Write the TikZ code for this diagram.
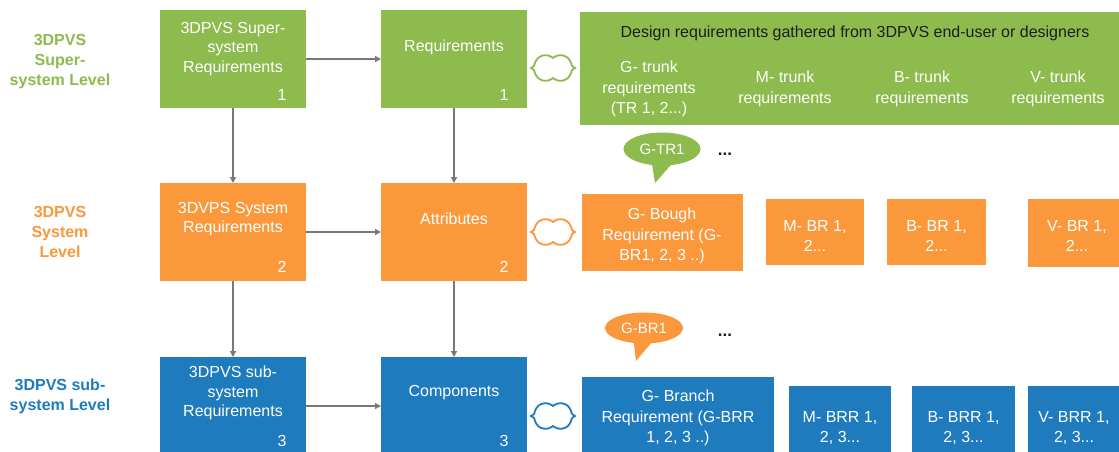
\documentclass[tikz,border=0pt]{standalone}
\usepackage{fontspec}
\setmainfont{Liberation Sans}
\usetikzlibrary{arrows.meta,shapes.geometric}
\definecolor{cgreen}{RGB}{141,187,77}
\definecolor{corange}{RGB}{252,152,60}
\definecolor{cblue}{RGB}{30,123,190}
\definecolor{cgray}{RGB}{120,120,120}
\definecolor{ctitle}{RGB}{30,30,30}
\begin{document}
\begin{tikzpicture}[x=1pt,y=-1pt,
  box/.style={rectangle, draw=none, inner sep=0pt, outer sep=0pt, anchor=north west},
  btxt/.style={text=white, align=center, inner sep=0pt, font=\fontsize{16}{19.5}\selectfont},
  stxt/.style={text=white, align=center, inner sep=0pt, font=\fontsize{16}{20.5}\selectfont},
  lvl/.style={align=center, inner sep=0pt, font=\fontsize{16}{20}\selectfont\bfseries},
  arr/.style={draw=cgray, line width=1.3pt, -{Triangle[length=6pt,width=6pt]}},
  bubble/.style={ellipse, draw=none, inner sep=0pt},
  dots/.style={inner sep=0pt, font=\fontsize{17}{17}\selectfont\bfseries, text=ctitle},
  peanut/.pic={
    \draw[line width=1.8pt, pic actions]
      (0,-10) .. controls (-5,-14.5) and (-15,-14) .. (-18,-5)
      .. controls (-19,-1.5) .. (-22,0)
      .. controls (-19,1.5) .. (-18,5)
      .. controls (-15,14) and (-5,14.5) .. (0,10)
      .. controls (5,14.5) and (15,14) .. (18,5)
      .. controls (19,1.5) .. (22,0)
      .. controls (19,-1.5) .. (18,-5)
      .. controls (15,-14) and (5,-14.5) .. (0,-10) -- cycle;
  }
]
\useasboundingbox (0,0) rectangle (1119,452);
\fill[white] (0,0) rectangle (1119,452);
\clip (0,0) rectangle (1119,452);

% level labels
\node[lvl, text=cgreen] (l1) at (60,62) {3DPVS\\Super-\\system Level};
\node[lvl, text=corange] (l2) at (60,232) {3DPVS\\System\\Level};
\node[lvl, text=cblue] (l3) at (60,396) {3DPVS sub-\\system Level};

% main column boxes
\node[box, fill=cgreen, minimum width=146pt, minimum height=98pt] (s1) at (160,10) {};
\node[box, fill=cgreen, minimum width=146pt, minimum height=98pt] (r1) at (381,10) {};
\node[box, fill=corange, minimum width=146pt, minimum height=98pt] (s2) at (160,183) {};
\node[box, fill=corange, minimum width=146pt, minimum height=98pt] (r2) at (381,183) {};
\node[box, fill=cblue, minimum width=146pt, minimum height=98pt] (s3) at (160,357) {};
\node[box, fill=cblue, minimum width=146pt, minimum height=98pt] (r3) at (381,357) {};

\node[btxt] (s1t) at ([yshift=10pt]s1.center) {3DPVS Super-\\system\\Requirements};
\node[btxt] (r1t) at ([yshift=12pt]r1.center) {Requirements};
\node[btxt] (s2t) at ([yshift=13pt]s2.center) {3DVPS System\\Requirements};
\node[btxt] (r2t) at ([yshift=13pt]r2.center) {Attributes};
\node[btxt] (s3t) at ([yshift=13pt]s3.center) {3DPVS sub-\\system\\Requirements};
\node[btxt] (r3t) at ([yshift=13pt]r3.center) {Components};

\node[btxt] (s1n) at ([xshift=-24pt,yshift=13pt]s1.south east) {1};
\node[btxt] (r1n) at ([xshift=-23pt,yshift=13pt]r1.south east) {1};
\node[btxt] (s2n) at ([xshift=-24pt,yshift=14pt]s2.south east) {2};
\node[btxt] (r2n) at ([xshift=-23pt,yshift=14pt]r2.south east) {2};
\node[btxt] (s3n) at ([xshift=-24pt,yshift=14pt]s3.south east) {3};
\node[btxt] (r3n) at ([xshift=-23pt,yshift=14pt]r3.south east) {3};

% arrows
\draw[arr] (s1) -- (r1);
\draw[arr] (s2) -- (r2);
\draw[arr] (s3) -- (r3);
\draw[arr] (s1) -- (s2);
\draw[arr] (s2) -- (s3);
\draw[arr] (r1) -- (r2);
\draw[arr] (r2) -- (r3);

% peanut connectors
\pic[draw=cgreen] at (553,68) {peanut};
\pic[draw=corange] at (553,232) {peanut};
\pic[draw=cblue] at (553,416) {peanut};

% super-system big box
\node[box, fill=cgreen, minimum width=560pt, minimum height=113pt] (dr) at (580,12) {};
\node[inner sep=0pt, text=ctitle, font=\fontsize{16}{19}\selectfont] (drt) at (855,33) {Design requirements gathered from 3DPVS end-user or designers};
\node[stxt] (gt) at (649,89) {G- trunk\\requirements\\(TR 1, 2...)};
\node[stxt] (mt) at (785,89) {M- trunk\\requirements};
\node[stxt] (bt) at (922,89) {B- trunk\\requirements};
\node[stxt] (vt) at (1058,89) {V- trunk\\requirements};

% bubble G-TR1
\fill[cgreen] (651,158) -- (655,183) -- (677,158) -- cycle;
\node[bubble, fill=cgreen, minimum width=77pt, minimum height=33pt] (gtr) at (662,149) {};
\node[btxt, font=\fontsize{15}{15}\selectfont] (gtrt) at (gtr.center) {G-TR1};
\node[dots] (d1) at (725,154) {...};

% orange row
\node[box, fill=corange, minimum width=161pt, minimum height=77pt] (gb) at (582,194) {};
\node[box, fill=corange, minimum width=98pt, minimum height=66pt] (mb) at (766,199) {};
\node[box, fill=corange, minimum width=99pt, minimum height=66pt] (bb) at (887,199) {};
\node[box, fill=corange, minimum width=98pt, minimum height=68pt] (vb) at (1028,199) {};
\node[stxt] (gbt) at (662,236) {G- Bough\\Requirement (G-\\BR1, 2, 3 ..)};
\node[stxt] (mbt) at (815,236) {M- BR 1,\\2...};
\node[stxt] (bbt) at (936.5,236) {B- BR 1,\\2...};
\node[stxt] (vbt) at (1077,236) {V- BR 1,\\2...};

% bubble G-BR1
\fill[corange] (633,336) -- (636,361) -- (657,336) -- cycle;
\node[bubble, fill=corange, minimum width=78pt, minimum height=31pt] (gbr) at (644,328) {};
\node[btxt, font=\fontsize{15}{15}\selectfont] (gbrt) at (gbr.center) {G-BR1};
\node[dots] (d2) at (725,335) {...};

% blue row
\node[box, fill=cblue, minimum width=192pt, minimum height=90pt] (gc) at (582,377) {};
\node[box, fill=cblue, minimum width=102pt, minimum height=80pt] (mc) at (789,386) {};
\node[box, fill=cblue, minimum width=103pt, minimum height=80pt] (bc) at (912,386) {};
\node[box, fill=cblue, minimum width=100pt, minimum height=80pt] (vc) at (1028,386) {};
\node[stxt] (gct) at (678,418) {G- Branch\\Requirement (G-BRR\\1, 2, 3 ..)};
\node[stxt] (mct) at (840,428) {M- BRR 1,\\2, 3...};
\node[stxt] (bct) at (963.5,428) {B- BRR 1,\\2, 3...};
\node[stxt] (vct) at (1074,428) {V- BRR 1,\\2, 3...};
\end{tikzpicture}
\end{document}
